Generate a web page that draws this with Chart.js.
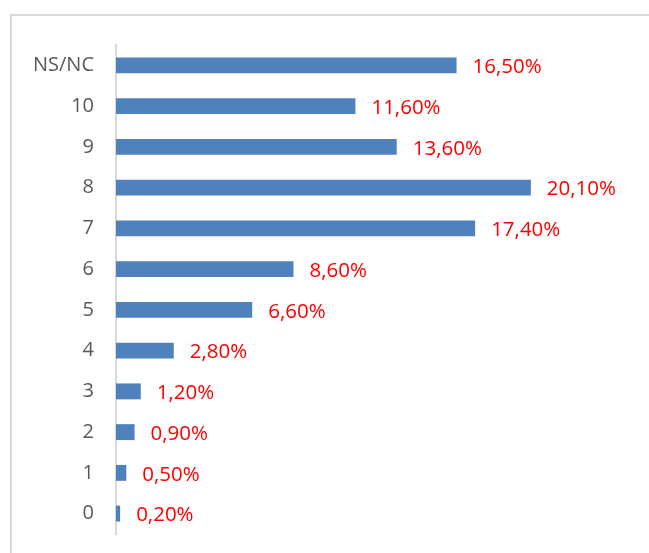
<!DOCTYPE html>
<html>
<head>
<meta charset="utf-8">
<script src="https://cdn.jsdelivr.net/npm/chart.js@4"></script>
<style>
  body { margin: 0; background: #fff; overflow: hidden; }
  #frame { position: absolute; left: 10px; top: 14px; width: 700px; height: 600px; border: 2px solid #d9d9d9; }
  #chart { position: absolute; left: 0; top: 0; }
</style>
</head>
<body>
<div id="frame"></div>
<canvas id="chart" width="649" height="553"></canvas>
<script>
// categories top to bottom
const categories = ['NS/NC', '10', '9', '8', '7', '6', '5', '4', '3', '2', '1', '0'];
// percentages
const values = [16.5, 11.6, 13.6, 20.1, 17.4, 8.6, 6.6, 2.8, 1.2, 0.9, 0.5, 0.2];

const FONT = '"Open Sans", sans-serif';

// draws the red value labels at the end of each bar
const valueLabels = {
  id: 'valueLabels',
  afterDatasetsDraw(chart) {
    const ctx = chart.ctx;
    const meta = chart.getDatasetMeta(0);
    ctx.save();
    ctx.font = '20.5px ' + FONT;
    ctx.fillStyle = '#ff0000';
    ctx.textAlign = 'left';
    ctx.textBaseline = 'middle';
    meta.data.forEach((bar, i) => {
      const txt = values[i].toFixed(2).replace('.', ',') + '%';
      ctx.fillText(txt, bar.x + 16, bar.y + 2);
    });
    ctx.restore();
  }
};

const chart = new Chart(document.getElementById('chart'), {
  type: 'bar',
  data: {
    labels: categories,
    datasets: [{
      data: values,
      backgroundColor: '#4f81bd',
      categoryPercentage: 1,
      barPercentage: 0.39
    }]
  },
  options: {
    indexAxis: 'y',
    responsive: false,
    animation: false,
    layout: { padding: { left: 0, top: 45, right: 17, bottom: 19 } },
    plugins: { legend: { display: false }, tooltip: { enabled: false } },
    scales: {
      x: { display: false, min: 0, max: 25 },
      y: {
        afterFit(scale) { scale.width = 116; },
        grid: { display: true, color: 'rgba(0,0,0,0)', drawOnChartArea: false, drawTicks: true, tickLength: 22 },
        border: { display: true, color: '#d9d9d9', width: 2 },
        ticks: { color: '#595959', padding: 0, font: { family: FONT, size: 20 } }
      }
    }
  },
  plugins: [valueLabels]
});
</script>
</body>
</html>
